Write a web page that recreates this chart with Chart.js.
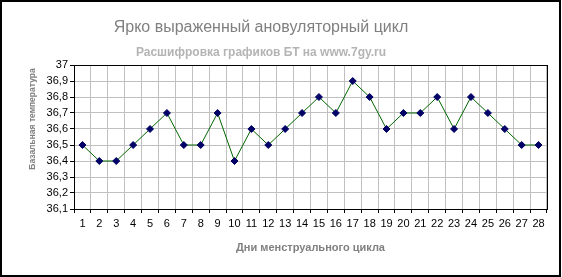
<!DOCTYPE html>
<html>
<head>
<meta charset="utf-8">
<script src="https://cdn.jsdelivr.net/npm/chart.js@4"></script>
<style>
  body { margin: 0; background: #fff; }
  canvas { display: block; }
</style>
</head>
<body>
<canvas id="btChart" width="562" height="277"></canvas>
<script>
const days = [1, 2, 3, 4, 5, 6, 7, 8, 9, 10, 11, 12, 13, 14, 15, 16, 17, 18, 19, 20, 21, 22, 23, 24, 25, 26, 27, 28];
const temps = [36.5, 36.4, 36.4, 36.5, 36.6, 36.7, 36.5, 36.5, 36.7, 36.4, 36.6, 36.5, 36.6, 36.7,
               36.8, 36.7, 36.9, 36.8, 36.6, 36.7, 36.7, 36.8, 36.6, 36.8, 36.7, 36.6, 36.5, 36.5];
const yTicks = [36.1, 36.2, 36.3, 36.4, 36.5, 36.6, 36.7, 36.8, 36.9, 37];

const titleText = 'Ярко выраженный ановуляторный цикл';
const subtitleText = 'Расшифровка графиков БТ на www.7gy.ru';
const xTitle = 'Дни менструального цикла';
const yTitle = 'Базальная температура';

const fontFam = '"Liberation Sans", Arial, sans-serif';

// frame round the plot area + whole picture, and the y axis title
const framePlugin = {
  id: 'frame',
  beforeDatasetsDraw(chart) {
    const {ctx, chartArea} = chart;
    ctx.save();
    ctx.strokeStyle = '#000';
    ctx.lineWidth = 1;
    ctx.strokeRect(Math.round(chartArea.left) + 0.5, Math.round(chartArea.top) + 0.5,
      Math.round(chartArea.right - chartArea.left), Math.round(chartArea.bottom - chartArea.top));
    ctx.restore();
  },
  afterDraw(chart) {
    const ctx = chart.ctx;
    ctx.save();
    ctx.strokeStyle = '#000';
    ctx.lineWidth = 2;
    ctx.strokeRect(1, 1, 559, 275);

    ctx.translate(33, 119);
    ctx.rotate(-Math.PI / 2);
    ctx.font = 'bold 8.5px ' + fontFam;
    ctx.fillStyle = '#808080';
    ctx.textAlign = 'center';
    ctx.textBaseline = 'middle';
    ctx.fillText(yTitle, 0, 0);
    ctx.restore();
  }
};

const btChart = new Chart(document.getElementById('btChart'), {
  type: 'line',
  data: {
    labels: days,
    datasets: [{
      data: temps,
      borderColor: '#006600',
      borderWidth: 1,
      tension: 0,
      pointStyle: 'rectRot',
      pointRadius: 3.5,
      pointBackgroundColor: '#000066',
      pointBorderColor: '#000066',
      pointBorderWidth: 1
    }]
  },
  options: {
    responsive: false,
    animation: false,
    devicePixelRatio: 1,
    layout: {
      padding: {left: -25, right: 15, top: 0, bottom: 0}
    },
    plugins: {
      legend: {display: false},
      tooltip: {enabled: false},
      title: {
        display: true,
        text: titleText,
        color: '#808080',
        font: {family: fontFam, size: 16, weight: 'normal'},
        padding: {top: 18, bottom: 0}
      },
      subtitle: {
        display: true,
        text: subtitleText,
        color: '#b4b4b4',
        font: {family: fontFam, size: 12, weight: 'bold'},
        padding: {top: 8, bottom: 5.4}
      }
    },
    scales: {
      x: {
        offset: true,
        grid: {
          offset: true,
          color: '#c0c0c0',
          tickColor: '#000',
          tickLength: 4
        },
        border: {color: '#000'},
        ticks: {
          color: '#000',
          font: {family: fontFam, size: 11},
          padding: 4,
          maxRotation: 0,
          autoSkip: false
        },
        title: {
          display: true,
          text: xTitle,
          color: '#808080',
          font: {family: fontFam, size: 11, weight: 'bold'},
          padding: {top: 0, bottom: 22}
        },
        afterFit(scale) { scale.height = 68; }
      },
      y: {
        min: 36.1,
        max: 37,
        grid: {
          color: '#c0c0c0',
          tickColor: '#000',
          tickLength: 4
        },
        border: {color: '#000'},
        ticks: {
          color: '#000',
          font: {family: fontFam, size: 11},
          padding: 2,
          autoSkip: false,
          callback: (v) => String(v).replace('.', ',')
        },
        afterBuildTicks(scale) {
          scale.ticks = yTicks.map(v => ({value: v}));
        },
        afterFit(scale) { scale.width = 99; }
      }
    }
  },
  plugins: [framePlugin]
});
</script>
</body>
</html>
